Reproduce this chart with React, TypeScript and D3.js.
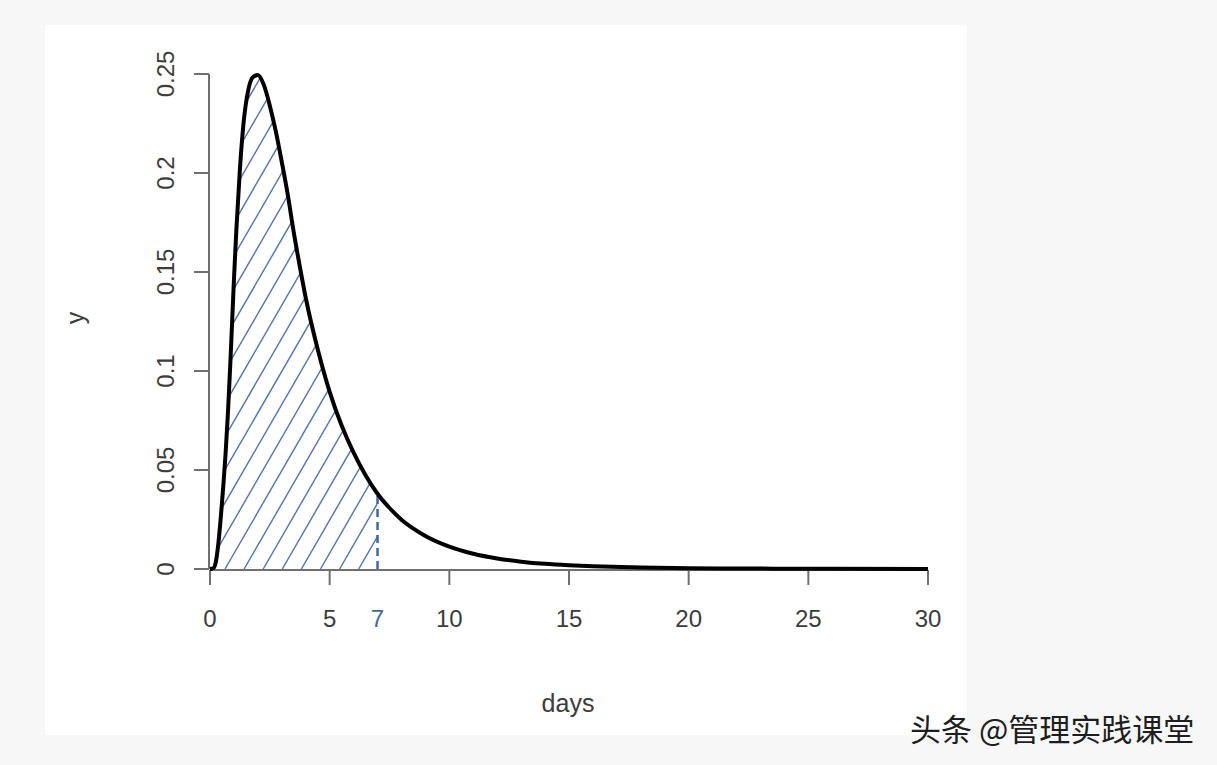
import React from 'react';
import * as d3 from 'd3';

// Density curve (days, y)
const days = [0, 0.15, 0.25, 0.35, 0.45, 0.55, 0.65, 0.75, 0.85, 1.0, 1.1, 1.25, 1.4, 1.6, 1.8, 2.0, 2.25, 2.5, 2.75, 3.0, 3.25, 3.5, 3.75, 4.0, 4.5, 5.0, 5.5, 6.0, 6.5, 7.0, 7.5, 8.0, 8.5, 9.0, 10, 11, 12, 13, 14, 15, 16, 18, 20, 23, 26, 30];
const density = [0, 0.0005, 0.004, 0.013, 0.026, 0.041, 0.058, 0.079, 0.104, 0.146, 0.171, 0.202, 0.225, 0.242, 0.2485, 0.2495, 0.2445, 0.234, 0.221, 0.2055, 0.189, 0.17, 0.153, 0.137, 0.111, 0.0895, 0.0725, 0.0588, 0.0474, 0.038, 0.0308, 0.0249, 0.0204, 0.0167, 0.0113, 0.0077, 0.0053, 0.0037, 0.0026, 0.0019, 0.0014, 0.0007, 0.0004, 0.0002, 0.0001, 0];

const xTicks = [0, 5, 10, 15, 20, 25, 30];
const xTickLabels = ['0', '5', '10', '15', '20', '25', '30'];
const yTicks = [0, 0.05, 0.1, 0.15, 0.2, 0.25];
const yTickLabels = ['0', '0.05', '0.1', '0.15', '0.2', '0.25'];
const cutoff = 7;
const cutoffLabel = '7';
const xLabel = 'days';
const yLabel = 'y';
const watermark = '头条 @管理实践课堂';

const W = 1217;
const H = 765;
const FONT = '"Liberation Sans", Arial, Helvetica, sans-serif';

export default function App() {
  const x = d3.scaleLinear().domain([0, 30]).range([210, 928]);
  const y = d3.scaleLinear().domain([0, 0.25]).range([569, 74]);

  const pts: [number, number][] = days.map((d, i) => [d, density[i]]);
  const shaded = pts.filter((p) => p[0] <= cutoff);

  const line = d3
    .line<[number, number]>()
    .x((d) => x(d[0]))
    .y((d) => y(d[1]))
    .curve(d3.curveMonotoneX);

  const area = d3
    .area<[number, number]>()
    .x((d) => x(d[0]))
    .y0(y(0))
    .y1((d) => y(d[1]))
    .curve(d3.curveMonotoneX);

  const cutoffValue = density[days.indexOf(cutoff)];

  // hatch lines at 60 degrees, spaced along the baseline
  const angle = (60 * Math.PI) / 180;
  const spacing = 19.1;
  const base = 225;
  const rise = 560;
  const hatch: { x1: number; y1: number; x2: number; y2: number }[] = [];
  for (let k = -20; k <= 12; k++) {
    const x0 = base + k * spacing;
    hatch.push({
      x1: x0,
      y1: y(0),
      x2: x0 + rise / Math.tan(angle),
      y2: y(0) - rise,
    });
  }

  const axisColor = '#707070';
  const textColor = '#3c3c3c';
  const blue = '#3f67a6';

  return (
    <svg
      width={W}
      height={H}
      viewBox={`0 0 ${W} ${H}`}
      style={{ position: 'absolute', left: 0, top: 0, display: 'block' }}
    >
      <rect x={0} y={0} width={W} height={H} fill="#f7f7f7" />
      <rect x={45} y={25} width={922} height={710} fill="#ffffff" />

      <defs>
        <clipPath id="shadeClip">
          <path d={area(shaded) || ''} />
        </clipPath>
      </defs>

      {/* hatching */}
      <g clipPath="url(#shadeClip)">
        {hatch.map((h, i) => (
          <line key={i} x1={h.x1} y1={h.y1} x2={h.x2} y2={h.y2} stroke="#5274a8" strokeWidth={1.4} />
        ))}
      </g>

      {/* x axis */}
      <line x1={x(0)} x2={x(30)} y1={570} y2={570} stroke={axisColor} strokeWidth={2} />
      {xTicks.map((t, i) => (
        <g key={t}>
          <line x1={x(t)} x2={x(t)} y1={570} y2={585} stroke={axisColor} strokeWidth={2} />
          <text
            x={x(t)}
            y={618}
            textAnchor="middle"
            dominantBaseline="central"
            fontFamily={FONT}
            fontSize={24}
            fill={textColor}
          >
            {xTickLabels[i]}
          </text>
        </g>
      ))}
      <text
        x={x(cutoff)}
        y={618}
        textAnchor="middle"
        dominantBaseline="central"
        fontFamily={FONT}
        fontSize={24}
        fill={blue}
      >
        {cutoffLabel}
      </text>

      {/* y axis */}
      <line x1={209} x2={209} y1={y(0)} y2={y(0.25)} stroke={axisColor} strokeWidth={2} />
      {yTicks.map((t, i) => (
        <g key={t}>
          <line x1={194} x2={209} y1={y(t)} y2={y(t)} stroke={axisColor} strokeWidth={2} />
          <text
            transform={`translate(165, ${y(t)}) rotate(-90)`}
            textAnchor="middle"
            dominantBaseline="central"
            fontFamily={FONT}
            fontSize={24}
            fill={textColor}
          >
            {yTickLabels[i]}
          </text>
        </g>
      ))}

      {/* axis titles */}
      <text
        x={568}
        y={703}
        textAnchor="middle"
        dominantBaseline="central"
        fontFamily={FONT}
        fontSize={25}
        fill={textColor}
      >
        {xLabel}
      </text>
      <text
        transform={`translate(75, 318) rotate(-90)`}
        textAnchor="middle"
        dominantBaseline="central"
        fontFamily={FONT}
        fontSize={25}
        fill={textColor}
      >
        {yLabel}
      </text>

      {/* dashed cutoff line */}
      <line
        x1={x(cutoff)}
        x2={x(cutoff)}
        y1={y(0)}
        y2={y(cutoffValue)}
        stroke={blue}
        strokeWidth={2.5}
        strokeDasharray="8,5"
      />

      {/* density curve */}
      <path d={line(pts) || ''} fill="none" stroke="#000" strokeWidth={4} strokeLinejoin="round" />

      {/* watermark */}
      <text
        x={910}
        y={727}
        dominantBaseline="central"
        fontFamily='"Noto Sans CJK SC", sans-serif'
        fontSize={31}
        fill="#1e1e1e"
      >
        {watermark}
      </text>
    </svg>
  );
}
